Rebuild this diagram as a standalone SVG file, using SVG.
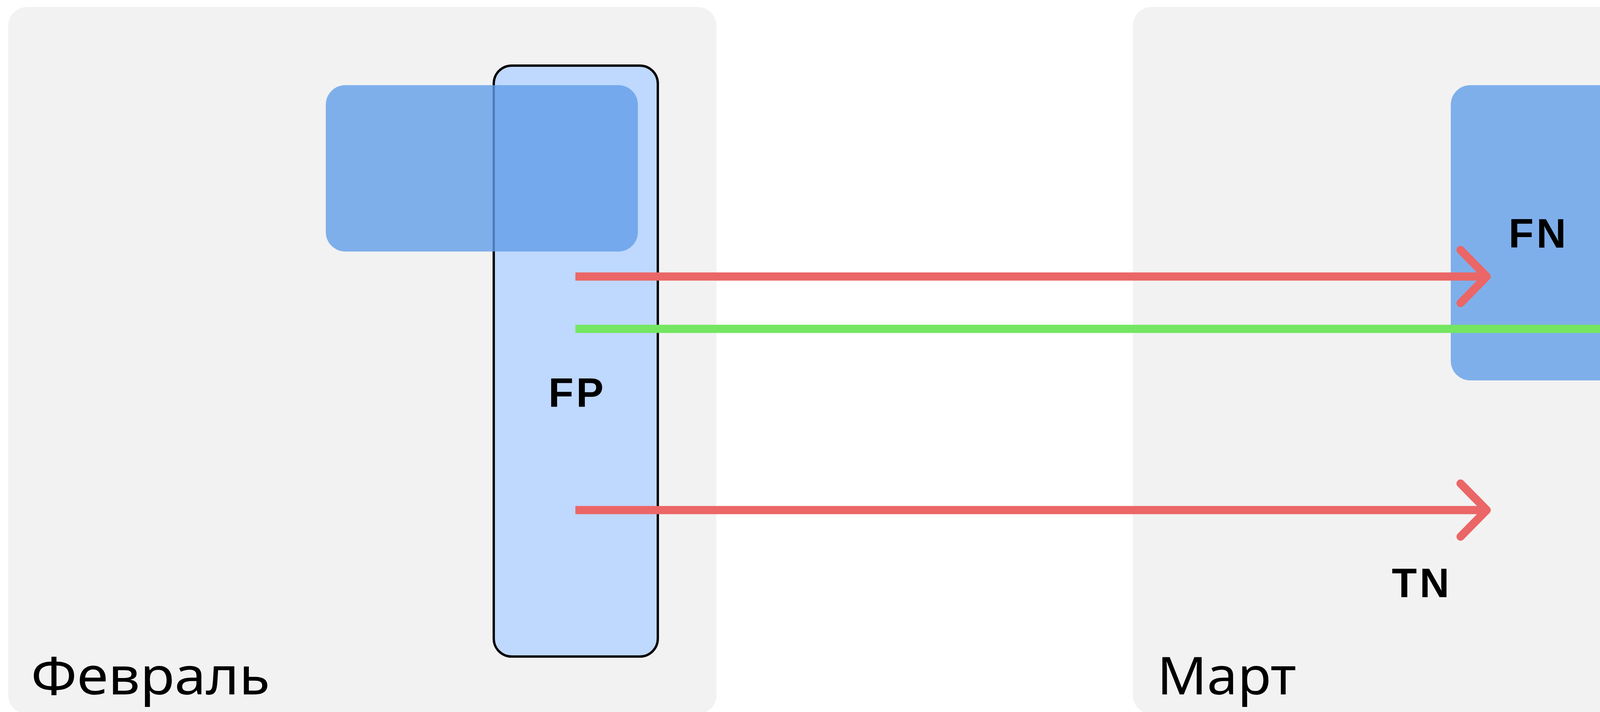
<svg xmlns="http://www.w3.org/2000/svg" width="4686" height="1823" viewBox="0 0 4686 1823">
  <style>
    .panel { fill: #F2F2F2; }
    .bar { fill: #BFD8FD; stroke: #000000; stroke-width: 6; }
    .block { fill: #629EE8; fill-opacity: 0.8; }
    .lbl { font-family: "Liberation Sans", Arial, sans-serif; font-weight: bold; font-size: 105px; fill: #000000; text-anchor: middle; letter-spacing: 7px; }
    .title { font-family: "Noto Sans", "Liberation Sans", sans-serif; font-size: 134px; fill: #000000; }
    .red { stroke: #EB6666; }
    .green { stroke: #74E661; }
    .shaft { fill: none; stroke-width: 21; stroke-linecap: butt; }
    .head { fill: none; stroke-width: 21; stroke-linecap: round; stroke-linejoin: round; }
  </style>
  <rect width="4686" height="1823" fill="#FFFFFF"/>

  <g id="panel-feb">
    <rect class="panel" x="21" y="18" width="1813" height="1810" rx="48"/>
    <text class="title" x="79" y="1778" textLength="612" lengthAdjust="spacingAndGlyphs">Февраль</text>
  </g>
  <g id="panel-mar">
    <rect class="panel" x="2900" y="18" width="1813" height="1810" rx="48"/>
    <text class="title" x="2962" y="1778" textLength="356" lengthAdjust="spacingAndGlyphs">Март</text>
  </g>

  <g id="feb-predicted">
    <rect class="bar" x="1264" y="168" width="420" height="1513" rx="46"/>
  </g>
  <g id="feb-actual">
    <rect class="block" x="834" y="218" width="799" height="426" rx="50"/>
  </g>
  <g id="mar-predicted">
    <rect class="bar" x="4145" y="168" width="418" height="1513" rx="46"/>
  </g>
  <g id="mar-actual">
    <rect class="block" x="3714" y="218" width="799" height="756" rx="50"/>
  </g>

  <g id="connectors">
    <line class="shaft red" x1="1473" y1="708" x2="3806" y2="708"/>
    <polyline class="head red" points="3739,640 3806,708 3739,776"/>
    <line class="shaft green" x1="1473" y1="842" x2="4277" y2="842"/>
    <polyline class="head green" points="4210,774 4277,842 4210,910"/>
    <line class="shaft red" x1="1473" y1="1306" x2="3806" y2="1306"/>
    <polyline class="head red" points="3739,1238 3806,1306 3739,1374"/>
  </g>

  <g id="labels">
    <text class="lbl" x="1478" y="1042">FP</text>
    <text class="lbl" x="3939" y="634">FN</text>
    <text class="lbl" x="4353" y="784">TP</text>
    <text class="lbl" x="4358" y="1263">FP</text>
    <text class="lbl" x="3640" y="1529">TN</text>
  </g>
</svg>
